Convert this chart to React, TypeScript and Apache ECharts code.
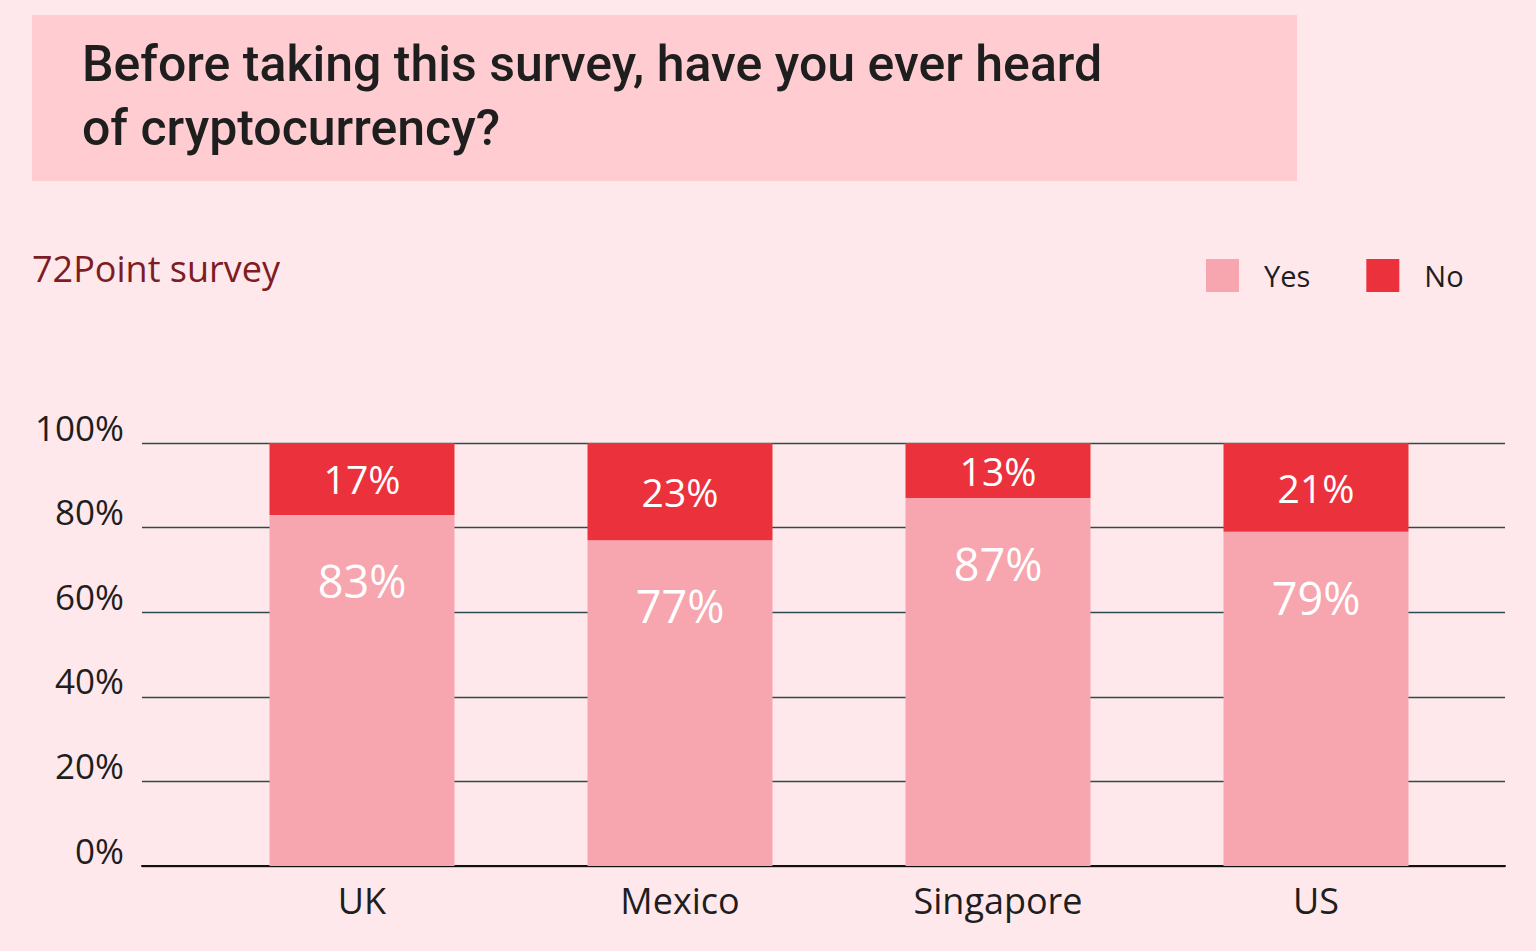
import React, { useEffect, useRef } from "react";
import * as echarts from "echarts";

const categories = ["UK", "Mexico", "Singapore", "US"];
const yesValues = [83, 77, 87, 79];
const noValues = [17, 23, 13, 21];
const seriesNames = ["Yes", "No"];
const titleText = "Before taking this survey, have you ever heard\nof cryptocurrency?";
const subtitleText = "72Point survey";

const BG = "#FFE8EB";
const BOX = "#FFCDD1";
const YES_COLOR = "#F7A5AE";
const NO_COLOR = "#EB323C";
const FONT = "'Open Sans', sans-serif";

export default function App() {
  const ref = useRef<HTMLDivElement>(null);
  useEffect(() => {
    if (!ref.current) return;
    const chart = echarts.init(ref.current, null, { renderer: "svg" });
    chart.setOption({
      animation: false,
      backgroundColor: BG,
      graphic: [
        {
          type: "rect",
          left: 32,
          top: 15,
          shape: { width: 1265, height: 166 },
          style: { fill: BOX },
          z: -1,
        },
      ],
      title: [
        {
          text: titleText,
          left: 77,
          top: 27,
          textStyle: {
            fontFamily: "Roboto, sans-serif",
            fontWeight: 500,
            fontSize: 50,
            lineHeight: 64,
            color: "#1E1E1E",
          },
        },
        {
          text: subtitleText,
          left: 27,
          top: 245,
          textStyle: {
            fontFamily: FONT,
            fontWeight: 400,
            fontSize: 36,
            color: "#7E1C25",
          },
        },
      ],
      legend: {
        data: seriesNames,
        left: 1201,
        top: 254,
        itemWidth: 33,
        itemHeight: 33,
        itemGap: 56,
        icon: "rect",
        textStyle: {
          fontFamily: FONT,
          fontSize: 29,
          color: "#1E1E1E",
          padding: [0, 0, 0, 20],
        },
      },
      grid: [
        { left: 142, right: 31, top: 443, bottom: 85 },
        { left: 203, right: 61, top: 443, bottom: 85 },
      ],
      xAxis: [
        {
          type: "category",
          gridIndex: 0,
          data: categories,
          axisLine: { show: true, lineStyle: { color: "#111111", width: 2 } },
          axisTick: { show: false },
          axisLabel: { show: false },
          splitLine: { show: false },
          z: 5,
        },
        {
          type: "category",
          gridIndex: 1,
          data: categories,
          axisLine: { show: false },
          axisTick: { show: false },
          axisLabel: {
            fontFamily: FONT,
            fontSize: 36,
            color: "#1E1E1E",
            margin: 16,
          },
        },
      ],
      yAxis: [
        {
          type: "value",
          gridIndex: 0,
          min: 0,
          max: 100,
          interval: 20,
          axisLine: { show: false },
          axisTick: { show: false },
          axisLabel: {
            formatter: "{value}%",
            fontFamily: FONT,
            fontSize: 35,
            color: "#1E1E1E",
            margin: 18,
            verticalAlign: "bottom",
            lineHeight: 32,
          },
          splitLine: { show: true, lineStyle: { color: "#2D4B4E", width: 1.3 } },
        },
        {
          type: "value",
          gridIndex: 1,
          min: 0,
          max: 100,
          interval: 20,
          show: false,
          splitLine: { show: false },
        },
      ],
      series: [
        {
          name: seriesNames[0],
          type: "bar",
          xAxisIndex: 1,
          yAxisIndex: 1,
          stack: "total",
          data: yesValues,
          barWidth: 185,
          itemStyle: { color: YES_COLOR },
          label: {
            show: true,
            position: "insideTop",
            distance: 43,
            formatter: "{c}%",
            fontFamily: FONT,
            fontSize: 45,
            color: "#FFFFFF",
          },
          z: 10,
        },
        {
          name: seriesNames[1],
          type: "bar",
          xAxisIndex: 1,
          yAxisIndex: 1,
          stack: "total",
          data: noValues,
          barWidth: 185,
          itemStyle: { color: NO_COLOR },
          label: {
            show: true,
            position: "inside",
            formatter: "{c}%",
            fontFamily: FONT,
            fontSize: 39,
            color: "#FFFFFF",
          },
          z: 10,
        },
      ],
    });
    return () => chart.dispose();
  }, []);
  return (
    <div
      ref={ref}
      style={{ position: "fixed", left: 0, top: 0, width: 1536, height: 951 }}
    />
  );
}
